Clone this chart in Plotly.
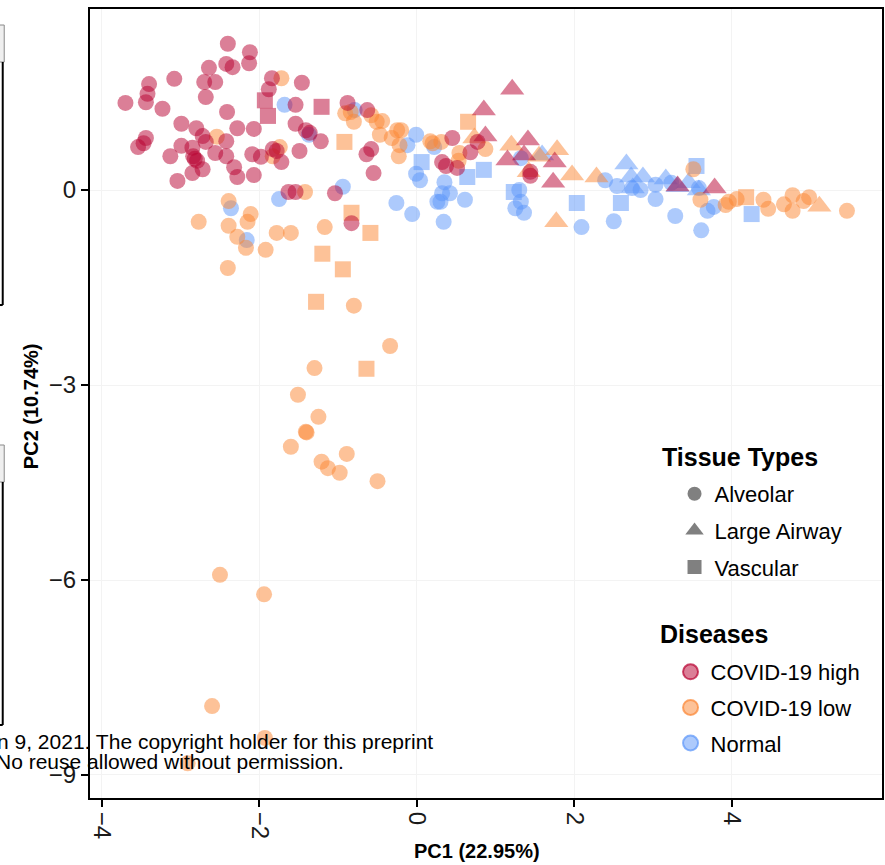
import plotly.graph_objects as go

FONT = "Liberation Sans, Arial, sans-serif"

# ---------------- data (PC1, PC2) ----------------
high_alv_x = [-3.70, -3.44, -3.42, -3.40, -3.08, -3.23, -2.40, -2.12, -2.42, -2.34, -2.13, -2.64,
              -2.70, -2.56, -2.68, -2.41, -1.84, -1.88, -1.46, -1.54, -2.99, -2.80, -2.28, -2.07,
              -1.54, -1.41, -1.36, -1.22, -3.44, -3.47, -3.54, -2.99, -2.72, -2.68, -2.42, -2.85,
              -2.84, -2.79, -2.85, -2.72, -3.13, -3.04, -2.56, -2.42, -2.32, -2.28, -2.07, -2.09,
              -1.98, -1.83, -1.78, -1.72, -1.49, -1.63, -1.54, -1.04, -0.83, -0.88, -0.63, -0.58,
              -0.64, -0.55, 0.45, 0.32, 0.37, 0.51, 0.68, 0.77, 1.44, 1.44, -2.82]
high_alv_y = [1.34, 1.35, 1.48, 1.63, 1.71, 1.25, 2.25, 2.12, 1.94, 1.89, 1.95, 1.88,
              1.66, 1.66, 1.43, 1.20, 1.72, 1.55, 1.65, 1.31, 1.02, 0.95, 0.95, 0.94,
              1.02, 0.92, 0.88, 0.75, 0.80, 0.72, 0.66, 0.68, 0.83, 0.74, 0.75, 0.65,
              0.52, 0.45, 0.26, 0.32, 0.52, 0.14, 0.57, 0.52, 0.35, 0.20, 0.23, 0.55,
              0.51, 0.63, 0.60, 0.43, 0.60, -0.03, -0.03, -0.05, -0.51, 1.34, 1.23, 0.63,
              0.55, 0.26, 0.80, 0.43, 0.37, 0.34, 0.58, 0.74, 0.28, 0.22, 0.48]
high_vas_x = [-1.93, -1.89, -1.21]
high_vas_y = [1.38, 1.14, 1.28]
high_air_x = [1.21, 0.85, 0.87, 1.41, 1.36, 1.15, 1.75, 1.73, 3.31, 3.78]
high_air_y = [1.55, 1.23, 0.83, 0.77, 0.54, 0.46, 0.43, 0.12, 0.06, 0.03]

low_alv_x = [-1.72, -2.54, -1.74, -1.83, -1.42, -2.39, -2.77, -2.11, -2.15, -2.39, -2.28, -2.17,
             -1.92, -1.78, -1.60, -1.17, -2.40, -0.91, -0.84, -0.80, -0.58, -0.51, -0.44, -0.47,
             -0.32, -0.25, -0.20, -0.22, -0.23, 0.17, 0.20, 0.31, 0.54, 0.53, 0.87,
             -0.80, -0.34, -1.30, -1.51, -1.25, -1.41, -1.40, -1.60, -0.89, -1.21, -1.13, -0.98,
             -0.50, -2.50, -1.94, -2.60, -1.93, -2.91,
             3.51, 3.60, 3.92, 3.96, 4.06, 4.40, 4.46, 4.66, 4.77, 4.77, 4.91, 4.98, 5.46]
low_alv_y = [1.72, 0.82, 0.66, 0.52, -0.03, -0.17, -0.49, -0.37, -0.49, -0.55, -0.72, -0.89,
             -0.92, -0.66, -0.66, -0.57, -1.20, 1.18, 1.20, 1.05, 1.15, 1.05, 1.06, 0.85,
             0.80, 0.92, 0.92, 0.69, 0.52, 0.75, 0.72, 0.74, 0.57, 0.45, 0.63,
             -1.78, -2.40, -2.74, -3.15, -3.49, -3.72, -3.73, -3.95, -4.06, -4.18, -4.28, -4.35,
             -4.48, -5.92, -6.22, -7.94, -8.43, -8.82,
             0.32, -0.15, -0.23, -0.18, -0.14, -0.15, -0.29, -0.22, -0.08, -0.32, -0.17, -0.11, -0.32]
low_vas_x = [-0.92, -0.83, -0.59, -1.20, -0.94, -1.28, -0.64, 0.65, 4.18]
low_vas_y = [0.74, -0.35, -0.66, -0.98, -1.22, -1.72, -2.75, 1.05, -0.11]
low_air_x = [0.73, 1.20, 1.55, 1.78, 1.97, 2.28, 1.77, 1.42, 5.11]
low_air_y = [0.80, 0.69, 0.52, 0.62, 0.23, 0.20, -0.49, 0.28, -0.25]

norm_alv_x = [-1.68, -1.37, -2.36, -2.16, -1.75, -0.94, -0.79, -0.01, -0.12, -0.01, 0.04, -0.26,
              -0.06, 0.26, 0.35, 0.42, 0.32, 0.30, 0.61, 0.34, 0.22, 1.25, 1.30, 1.32, 1.36, 1.32,
              2.09, 2.50, 2.39, 2.54, 2.73, 2.84, 3.03, 3.03, 3.23, 3.28, 3.58, 3.69, 3.77, 3.61]
norm_alv_y = [1.31, 0.85, -0.28, -0.77, -0.14, 0.05, 1.23, 0.85, 0.69, 0.25, 0.15, -0.20,
              -0.37, -0.18, 0.12, -0.05, -0.05, -0.18, -0.15, -0.49, 0.66, -0.28, 0.00, -0.18, -0.35, 0.49,
              -0.57, -0.48, 0.15, 0.06, 0.03, 0.00, 0.08, -0.14, 0.11, -0.40, 0.03, -0.32, -0.26, -0.62]
norm_vas_x = [0.06, 0.64, 0.85, 1.23, 2.03, 2.59, 3.55, 4.25]
norm_vas_y = [0.43, 0.20, 0.31, -0.03, -0.20, -0.20, 0.37, -0.37]
norm_air_x = [1.59, 2.66, 2.72, 2.87, 2.74, 3.16, 3.45, 3.58, 3.31]
norm_air_y = [0.54, 0.40, 0.20, 0.20, 0.03, 0.17, 0.11, 0.00, 0.05]

x_ticks = [-4, -2, 0, 2, 4]
y_ticks = [0, -3, -6, -9]
tissue_names = ["Alveolar", "Large Airway", "Vascular"]
disease_names = ["COVID-19 high", "COVID-19 low", "Normal"]

# ---------------- styles ----------------
COL = {"COVID-19 high": (184, 0, 48), "COVID-19 low": (251, 133, 50), "Normal": (91, 149, 249)}
SYM = {"Alveolar": "circle", "Large Airway": "triangle-up", "Vascular": "square"}
SIZE = {"Alveolar": 16, "Large Airway": 21, "Vascular": 16}

def rgba(c, a):
    return f"rgba({c[0]},{c[1]},{c[2]},{a})"

series = [
    ("Normal", "Alveolar", norm_alv_x, norm_alv_y),
    ("Normal", "Vascular", norm_vas_x, norm_vas_y),
    ("Normal", "Large Airway", norm_air_x, norm_air_y),
    ("COVID-19 low", "Alveolar", low_alv_x, low_alv_y),
    ("COVID-19 low", "Vascular", low_vas_x, low_vas_y),
    ("COVID-19 low", "Large Airway", low_air_x, low_air_y),
    ("COVID-19 high", "Alveolar", high_alv_x, high_alv_y),
    ("COVID-19 high", "Vascular", high_vas_x, high_vas_y),
    ("COVID-19 high", "Large Airway", high_air_x, high_air_y),
]

fig = go.Figure()
for dis, tis, xs, ys in series:
    fig.add_trace(go.Scatter(
        x=xs, y=ys, mode="markers", showlegend=False, hoverinfo="skip",
        marker=dict(symbol=SYM[tis], size=SIZE[tis], color=rgba(COL[dis], 0.5),
                    line=dict(width=0)),
    ))

# legend-only entries
for i, t in enumerate(tissue_names):
    fig.add_trace(go.Scatter(
        x=[None], y=[None], mode="markers", name=t, legend="legend",
        legendgroup="t" + str(i),
        marker=dict(symbol=SYM[t], size=14 if t != "Large Airway" else 18,
                    color="#808080", line=dict(width=0)),
    ))
for i, d in enumerate(disease_names):
    fig.add_trace(go.Scatter(
        x=[None], y=[None], mode="markers", name=d, legend="legend2",
        legendgroup="d" + str(i),
        marker=dict(symbol="circle", size=15, color=rgba(COL[d], 0.5),
                    line=dict(width=2, color=rgba(COL[d], 0.7))),
    ))

axis_common = dict(
    showline=True, linecolor="black", linewidth=2, mirror=True,
    ticks="outside", ticklen=7, tickwidth=1.5, tickcolor="black",
    showgrid=True, gridcolor="#f3f3f3", gridwidth=1, zeroline=False,
    tickfont=dict(family=FONT, size=24, color="#1a1a1a"),
)

fig.update_layout(
    width=885, height=865,
    margin=dict(l=90, r=1, t=9, b=67),
    paper_bgcolor="white", plot_bgcolor="white",
    font=dict(family=FONT, color="black"),
    xaxis=dict(range=[-4.15, 5.905], tickvals=x_ticks, tickangle=90, **axis_common),
    yaxis=dict(range=[-9.354, 2.785], tickvals=y_ticks, **axis_common),
    legend=dict(
        x=(676 - 90) / 794, y=(798 - 473) / 789, xanchor="left", yanchor="top",
        bgcolor="rgba(0,0,0,0)", traceorder="grouped", tracegroupgap=5,
        font=dict(family=FONT, size=22, color="black"),
    ),
    legend2=dict(
        x=(672 - 90) / 794, y=(798 - 651) / 789, xanchor="left", yanchor="top",
        bgcolor="rgba(0,0,0,0)", traceorder="grouped", tracegroupgap=4,
        font=dict(family=FONT, size=22, color="black"),
    ),
)

# axis titles and legend titles
fig.add_annotation(text="<b>PC1 (22.95%)</b>", xref="paper", yref="paper",
                   x=(478 - 90) / 794, y=(798 - 851) / 789, xanchor="center", yanchor="middle",
                   showarrow=False, font=dict(family=FONT, size=20, color="black"))
fig.add_annotation(text="<b>PC2 (10.74%)</b>", xref="paper", yref="paper", textangle=-90,
                   x=(31 - 90) / 794, y=(798 - 406) / 789, xanchor="center", yanchor="middle",
                   showarrow=False, font=dict(family=FONT, size=20, color="black"))
fig.add_annotation(text="<b>Tissue Types</b>", xref="paper", yref="paper",
                   x=(661 - 90) / 794, y=(798 - 457) / 789, xanchor="left", yanchor="middle",
                   showarrow=False, font=dict(family=FONT, size=25, color="black"))
fig.add_annotation(text="<b>Diseases</b>", xref="paper", yref="paper",
                   x=(659 - 90) / 794, y=(798 - 634) / 789, xanchor="left", yanchor="middle",
                   showarrow=False, font=dict(family=FONT, size=25, color="black"))

# copyright watermark text overlapping the figure
fig.add_annotation(text="n 9, 2021. The copyright holder for this preprint",
                   xref="paper", yref="paper", x=(436 - 90) / 794, y=(798 - 741) / 789,
                   xanchor="right", yanchor="middle", showarrow=False,
                   font=dict(family=FONT, size=21, color="black"))
fig.add_annotation(text="No reuse allowed without permission.",
                   xref="paper", yref="paper", x=(347 - 90) / 794, y=(798 - 761) / 789,
                   xanchor="right", yanchor="middle", showarrow=False,
                   font=dict(family=FONT, size=21, color="black"))

# neighbouring panel fragments on the left edge
for top, hdr_bot, bot in [(0.9797, 0.9328, 0.6248), (0.4474, 0.4005, 0.0925)]:
    fig.add_shape(type="rect", xref="paper", yref="paper", x0=-0.13, x1=-0.1083,
                  y0=hdr_bot, y1=top, fillcolor="#efefef", line=dict(color="#8a8a8a", width=1),
                  layer="above")
    fig.add_shape(type="line", xref="paper", yref="paper", x0=-0.1102, x1=-0.1102,
                  y0=bot, y1=hdr_bot, line=dict(color="black", width=2))
    fig.add_shape(type="line", xref="paper", yref="paper", x0=-0.13, x1=-0.1102,
                  y0=bot, y1=bot, line=dict(color="black", width=2))

fig.write_html("out.html")
